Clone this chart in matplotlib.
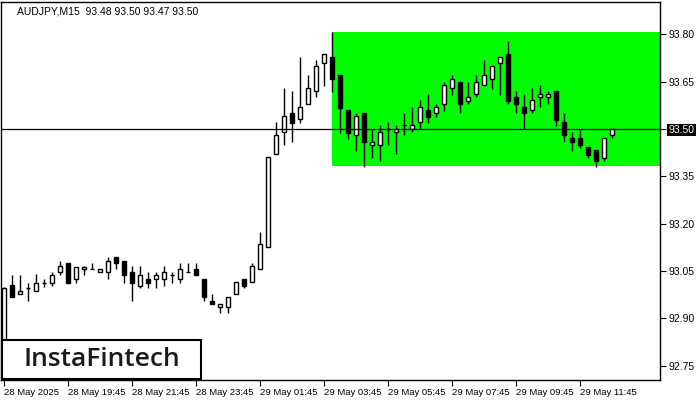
import numpy as np
import matplotlib
matplotlib.use('agg')
import matplotlib.pyplot as plt
from matplotlib.patches import Rectangle

# OHLC of the 15 minute bars
opens = [92.800, 93.006, 92.977, 92.996, 92.987, 93.011, 93.013, 93.046, 93.074, 93.024,
         93.055, 93.055, 93.046, 93.046, 93.093, 93.083, 93.046, 93.003, 93.024, 93.024,
         93.024, 93.037, 93.024, 93.046, 93.055, 93.024, 92.956, 92.935, 92.935, 92.977,
         93.024, 93.014, 93.055, 93.125, 93.420, 93.490, 93.550, 93.531, 93.578, 93.620,
         93.708, 93.727, 93.670, 93.560, 93.480, 93.550, 93.450, 93.450, 93.500, 93.490,
         93.512, 93.499, 93.521, 93.559, 93.550, 93.578, 93.629, 93.648, 93.590, 93.610,
         93.638, 93.659, 93.708, 93.737, 93.600, 93.569, 93.559, 93.600, 93.600, 93.619,
         93.521, 93.470, 93.470, 93.442, 93.432, 93.409, 93.480]
highs = [93.000, 93.037, 93.037, 93.013, 93.040, 93.024, 93.046, 93.083, 93.074, 93.064,
         93.066, 93.074, 93.055, 93.095, 93.093, 93.083, 93.066, 93.066, 93.046, 93.046,
         93.066, 93.046, 93.074, 93.074, 93.074, 93.024, 92.977, 92.945, 92.967, 93.014,
         93.024, 93.074, 93.174, 93.410, 93.522, 93.629, 93.620, 93.728, 93.670, 93.719,
         93.737, 93.807, 93.670, 93.560, 93.550, 93.550, 93.499, 93.512, 93.521, 93.512,
         93.550, 93.569, 93.592, 93.611, 93.579, 93.648, 93.670, 93.648, 93.648, 93.670,
         93.719, 93.699, 93.727, 93.778, 93.619, 93.611, 93.629, 93.638, 93.619, 93.619,
         93.550, 93.490, 93.499, 93.442, 93.432, 93.470, 93.500]
lows = [92.780, 92.968, 92.977, 92.956, 92.987, 92.998, 93.003, 93.037, 93.013, 93.013,
        93.037, 93.055, 93.046, 93.024, 93.055, 93.013, 92.956, 92.995, 92.995, 92.995,
        93.003, 93.013, 93.013, 93.046, 93.037, 92.956, 92.945, 92.916, 92.916, 92.977,
        92.995, 93.014, 93.055, 93.125, 93.420, 93.450, 93.460, 93.520, 93.578, 93.600,
        93.637, 93.618, 93.488, 93.469, 93.431, 93.380, 93.409, 93.400, 93.450, 93.420,
        93.480, 93.490, 93.499, 93.520, 93.539, 93.558, 93.608, 93.550, 93.578, 93.600,
        93.638, 93.628, 93.608, 93.578, 93.550, 93.499, 93.550, 93.569, 93.579, 93.510,
        93.460, 93.430, 93.440, 93.409, 93.380, 93.400, 93.470]
closes = [92.996, 92.968, 92.987, 92.996, 93.013, 93.011, 93.037, 93.066, 93.013, 93.064,
          93.064, 93.055, 93.055, 93.083, 93.074, 93.037, 93.013, 93.037, 93.013, 93.037,
          93.046, 93.037, 93.055, 93.046, 93.037, 92.967, 92.945, 92.945, 92.967, 93.014,
          93.003, 93.065, 93.135, 93.410, 93.480, 93.540, 93.520, 93.569, 93.629, 93.699,
          93.737, 93.657, 93.567, 93.488, 93.540, 93.460, 93.460, 93.490, 93.500, 93.499,
          93.512, 93.512, 93.569, 93.539, 93.569, 93.638, 93.657, 93.578, 93.600, 93.648,
          93.670, 93.699, 93.727, 93.590, 93.578, 93.550, 93.591, 93.610, 93.610, 93.530,
          93.480, 93.460, 93.450, 93.419, 93.400, 93.470, 93.500]

price_ticks = [92.75, 92.90, 93.05, 93.20, 93.35, 93.50, 93.65, 93.80]
time_labels = ['28 May 2025', '28 May 19:45', '28 May 21:45', '28 May 23:45', '29 May 01:45',
               '29 May 03:45', '29 May 05:45', '29 May 07:45', '29 May 09:45', '29 May 11:45']
bars_per_label = 8

last_price = 93.50
box_start = 41          # bar where the rectangle begins
box_top = 93.807
box_bottom = 93.384

plt.rcParams['font.family'] = ['Liberation Sans', 'DejaVu Sans']

fig = plt.figure(figsize=(7, 4), dpi=100)
ax = fig.add_axes([1 / 700, 20 / 400, 659 / 700, 378 / 400])

x = np.arange(len(opens))
o = np.array(opens)
c = np.array(closes)

# pattern rectangle
ax.add_patch(Rectangle((box_start, box_bottom), 100, box_top - box_bottom,
                       facecolor='#00ff00', edgecolor='none', zorder=1))

# candles
ax.vlines(x, lows, highs, color='black', lw=1, zorder=2)
bottoms = np.minimum(o, c)
heights = np.abs(c - o)
face = ['white' if cc >= oo else 'black' for oo, cc in zip(o, c)]
ax.bar(x, heights, 0.5, bottom=bottoms, color=face, edgecolor='black', lw=1, zorder=3)

ax.axhline(last_price, color='black', lw=0.9, zorder=4)

ax.set_xlim(-0.3125, 82.06)
ax.set_ylim(92.7047, 93.9024)

ax.yaxis.tick_right()
ax.set_yticks(price_ticks)
ax.set_yticklabels(['%.2f' % p for p in price_ticks])
ax.set_xticks(np.arange(len(time_labels)) * bars_per_label)
ax.set_xticklabels(time_labels, ha='left')
ax.tick_params(axis='both', length=4, width=0.8, direction='out', pad=2)
ax.tick_params(axis='y', labelsize=7.5)
ax.tick_params(axis='x', labelsize=6.8)
for lab in ax.get_yticklabels():
    if lab.get_text() == '93.50':
        lab.set_color('white')
        lab.set_bbox(dict(facecolor='black', edgecolor='none', pad=1))
for s in ax.spines.values():
    s.set_color('black')
    s.set_linewidth(1)

ax.text(0.025, 0.975, 'AUDJPY,M15  93.48 93.50 93.47 93.50', transform=ax.transAxes,
        fontsize=7.5, va='center', ha='left')

# logo
fig.add_artist(Rectangle((2 / 700, 21 / 400), 199 / 700, 39 / 400, transform=fig.transFigure,
                         facecolor='white', edgecolor='black', lw=1.5, zorder=5))
fig.text(101.5 / 700, 40.5 / 400, 'InstaFintech', fontsize=19, family='Open Sans',
         weight='semibold', ha='center', va='center', color='#1a1a1a', zorder=6)

fig.savefig('out.png', dpi=100)
